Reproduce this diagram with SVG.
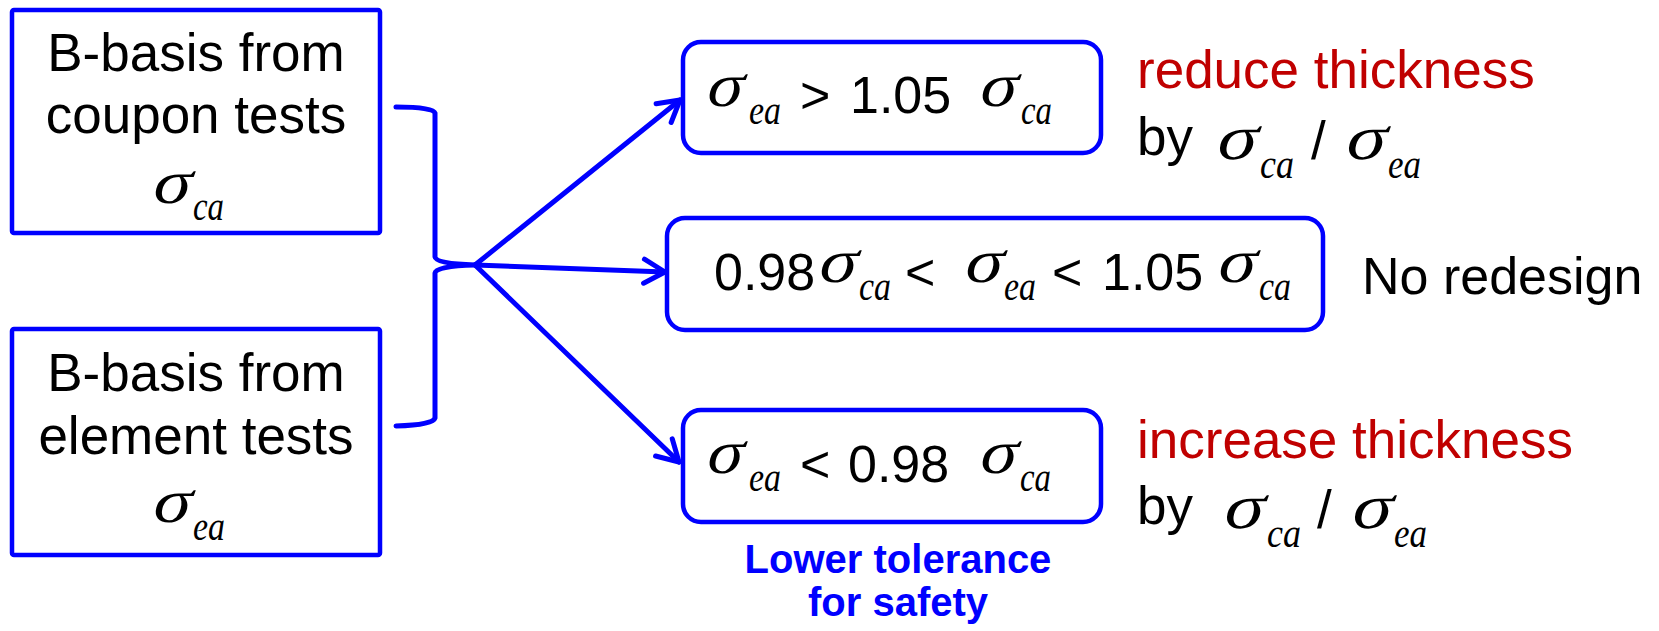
<svg xmlns="http://www.w3.org/2000/svg" width="1659" height="631" viewBox="0 0 1659 631">
<style>
.box{fill:#fff;stroke:#0000FF;stroke-width:4.5}
.t{font-family:"Liberation Sans",Arial,sans-serif;font-size:52px;fill:#000}
.c{text-anchor:middle}
.s{font-family:"Liberation Serif","Times New Roman",serif;font-size:62px;fill:#000}
.sub{font-family:"Liberation Serif","Times New Roman",serif;font-style:italic;font-size:42px;fill:#000}
.red{font-family:"Liberation Sans",Arial,sans-serif;font-size:53px;fill:#C00000}
.blue{font-family:"Liberation Sans",Arial,sans-serif;font-size:40px;font-weight:bold;fill:#0000FF;text-anchor:middle}
.ln{fill:none;stroke:#0000FF;stroke-width:5;stroke-linecap:round;stroke-linejoin:round}
</style>
<defs>
<marker id="ah" markerUnits="userSpaceOnUse" markerWidth="40" markerHeight="40" viewBox="-30 -20 40 40" refX="0" refY="0" orient="auto">
<path d="M-21,-12 L0,0 L-21,12" fill="none" stroke="#0000FF" stroke-width="5" stroke-linecap="round" stroke-linejoin="round"/>
</marker>
</defs>
<g id="connectors">
<path class="ln" d="M396,107 Q433,107 435,113 L435,257 Q436,264 475,265 Q436,266 435,273 L435,418 Q433,425 396,426"/>
<path class="ln" d="M475,265 L680,100" marker-end="url(#ah)"/>
<path class="ln" d="M475,265 L665,272" marker-end="url(#ah)"/>
<path class="ln" d="M475,265 L679,462" marker-end="url(#ah)"/>
</g>
<g id="coupon">
<rect class="box" x="12" y="10" width="368" height="223" rx="2"/>
<text class="t c" x="196" y="71" style="font-size:53px">B-basis from</text>
<text class="t c" x="196" y="133" style="font-size:53px">coupon tests</text>
<text class="s" transform="translate(150,203) skewX(-14)" textLength="39" lengthAdjust="spacingAndGlyphs">σ</text>
<text class="sub" x="193" y="220" textLength="31" lengthAdjust="spacingAndGlyphs">ca</text>
</g>
<g id="element">
<rect class="box" x="12" y="329" width="368" height="226" rx="2"/>
<text class="t c" x="196" y="391" style="font-size:53px">B-basis from</text>
<text class="t c" x="196" y="454" style="font-size:53px">element tests</text>
<text class="s" transform="translate(150,522) skewX(-14)" textLength="39" lengthAdjust="spacingAndGlyphs">σ</text>
<text class="sub" x="193" y="540" textLength="32" lengthAdjust="spacingAndGlyphs">ea</text>
</g>
<g id="case-high">
<rect class="box" x="683" y="42" width="418" height="111" rx="18"/>
<text class="s" transform="translate(704,106) skewX(-14)" textLength="37" lengthAdjust="spacingAndGlyphs">σ</text>
<text class="sub" x="749" y="124" textLength="32" lengthAdjust="spacingAndGlyphs">ea</text>
<text class="t" x="800" y="113">&gt;</text>
<text class="t" x="850" y="113">1.05</text>
<text class="s" transform="translate(977,106) skewX(-14)" textLength="38" lengthAdjust="spacingAndGlyphs">σ</text>
<text class="sub" x="1021" y="124" textLength="31" lengthAdjust="spacingAndGlyphs">ca</text>
</g>
<g id="case-mid">
<rect class="box" x="667" y="218" width="656" height="112" rx="18"/>
<text class="t" x="714" y="290">0.98</text>
<text class="s" transform="translate(816,282) skewX(-14)" textLength="39" lengthAdjust="spacingAndGlyphs">σ</text>
<text class="sub" x="859" y="300" textLength="32" lengthAdjust="spacingAndGlyphs">ca</text>
<text class="t" x="905" y="290">&lt;</text>
<text class="s" transform="translate(962,282) skewX(-14)" textLength="39" lengthAdjust="spacingAndGlyphs">σ</text>
<text class="sub" x="1004" y="300" textLength="32" lengthAdjust="spacingAndGlyphs">ea</text>
<text class="t" x="1052" y="290">&lt;</text>
<text class="t" x="1102" y="290">1.05</text>
<text class="s" transform="translate(1215,282) skewX(-14)" textLength="39" lengthAdjust="spacingAndGlyphs">σ</text>
<text class="sub" x="1259" y="300" textLength="32" lengthAdjust="spacingAndGlyphs">ca</text>
</g>
<g id="case-low">
<rect class="box" x="683" y="410" width="418" height="112" rx="18"/>
<text class="s" transform="translate(704,473) skewX(-14)" textLength="37" lengthAdjust="spacingAndGlyphs">σ</text>
<text class="sub" x="749" y="491" textLength="32" lengthAdjust="spacingAndGlyphs">ea</text>
<text class="t" x="800" y="482">&lt;</text>
<text class="t" x="848" y="482">0.98</text>
<text class="s" transform="translate(977,473) skewX(-14)" textLength="38" lengthAdjust="spacingAndGlyphs">σ</text>
<text class="sub" x="1020" y="491" textLength="31" lengthAdjust="spacingAndGlyphs">ca</text>
<text class="blue" x="898" y="573">Lower tolerance</text>
<text class="blue" x="898" y="616">for safety</text>
</g>
<g id="action-reduce">
<text class="red" x="1137" y="88">reduce thickness</text>
<text class="t" x="1137" y="155" style="font-size:53px">by</text>
<text class="s" transform="translate(1214,159) skewX(-14)" style="font-size:64px" textLength="41" lengthAdjust="spacingAndGlyphs">σ</text>
<text class="sub" x="1260" y="178" textLength="34" lengthAdjust="spacingAndGlyphs">ca</text>
<text class="t" x="1311" y="159" style="font-size:53px">/</text>
<text class="s" transform="translate(1343,159) skewX(-14)" style="font-size:64px" textLength="41" lengthAdjust="spacingAndGlyphs">σ</text>
<text class="sub" x="1388" y="178" textLength="33" lengthAdjust="spacingAndGlyphs">ea</text>
</g>
<g id="action-none">
<text class="t" x="1362" y="294">No redesign</text>
</g>
<g id="action-increase">
<text class="red" x="1137" y="458">increase thickness</text>
<text class="t" x="1137" y="524" style="font-size:53px">by</text>
<text class="s" transform="translate(1221,528) skewX(-14)" style="font-size:64px" textLength="41" lengthAdjust="spacingAndGlyphs">σ</text>
<text class="sub" x="1267" y="547" textLength="34" lengthAdjust="spacingAndGlyphs">ca</text>
<text class="t" x="1317" y="528" style="font-size:53px">/</text>
<text class="s" transform="translate(1349,528) skewX(-14)" style="font-size:64px" textLength="41" lengthAdjust="spacingAndGlyphs">σ</text>
<text class="sub" x="1394" y="547" textLength="33" lengthAdjust="spacingAndGlyphs">ea</text>
</g>
</svg>
